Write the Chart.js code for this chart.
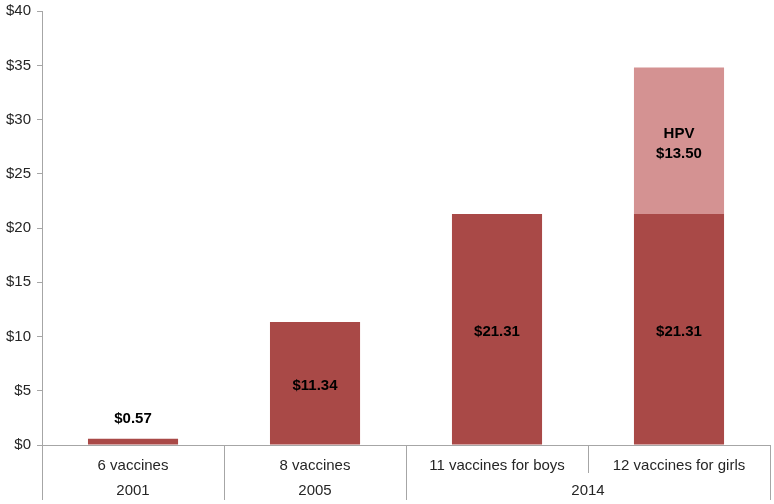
<!DOCTYPE html>
<html>
<head>
<meta charset="utf-8">
<script src="https://cdn.jsdelivr.net/npm/chart.js@4/dist/chart.umd.min.js"></script>
<style>
  html, body { margin: 0; padding: 0; background: #ffffff; }
  #wrap { width: 774px; height: 504px; }
</style>
</head>
<body>
<div id="wrap"><canvas id="c"></canvas></div>
<script>
// ---- Data ----
const categories = ['6 vaccines', '8 vaccines', '11 vaccines for boys', '12 vaccines for girls'];
const years = ['2001', '2005', '2014', '2014'];
const baseCost = [0.57, 11.34, 21.31, 21.31];
const hpvCost = [0, 0, 0, 13.50];
const yTicks = [0, 5, 10, 15, 20, 25, 30, 35, 40];

const FONT = '"Liberation Sans", Arial, sans-serif';
const AXIS = '#a6a6a6';
const TEXT = '#262626';

function money(v) { return '$' + v.toFixed(2); }

const labelPlugin = {
  id: 'barLabels',
  afterDatasetsDraw(chart) {
    const ctx = chart.ctx;
    ctx.save();
    ctx.font = 'bold 15px ' + FONT;
    ctx.fillStyle = '#000';
    ctx.textAlign = 'center';
    ctx.textBaseline = 'middle';
    const m0 = chart.getDatasetMeta(0);
    m0.data.forEach((bar, i) => {
      const v = baseCost[i];
      const h = bar.base - bar.y;
      if (h < 30) {
        ctx.fillText(money(v), bar.x, bar.y - 20);
      } else {
        ctx.fillText(money(v), bar.x, (bar.y + bar.base) / 2 + 3);
      }
    });
    const m1 = chart.getDatasetMeta(1);
    m1.data.forEach((bar, i) => {
      const v = hpvCost[i];
      if (!v) return;
      const cy = (bar.y + bar.base) / 2 + 3;
      ctx.fillText('HPV', bar.x, cy - 10);
      ctx.fillText(money(v), bar.x, cy + 10);
    });
    ctx.restore();
  }
};

const groupPlugin = {
  id: 'groupAxis',
  afterDraw(chart) {
    const ctx = chart.ctx;
    const xs = chart.scales.x;
    const area = chart.chartArea;
    const n = categories.length;
    const step = (xs.getPixelForValue(1) - xs.getPixelForValue(0));
    const bounds = [];
    for (let i = 0; i <= n; i++) bounds.push(xs.getPixelForValue(0) - step / 2 + i * step);
    ctx.save();
    ctx.strokeStyle = AXIS;
    ctx.lineWidth = 1;
    for (let i = 0; i <= n; i++) {
      const sameGroup = i > 0 && i < n && years[i] === years[i - 1];
      const x = Math.round(bounds[i]) + 0.5;
      ctx.beginPath();
      ctx.moveTo(x, area.bottom);
      ctx.lineTo(x, sameGroup ? area.bottom + 28 : area.bottom + 55);
      ctx.stroke();
    }
    ctx.font = '15px ' + FONT;
    ctx.fillStyle = TEXT;
    ctx.textAlign = 'center';
    ctx.textBaseline = 'middle';
    let start = 0;
    for (let i = 1; i <= n; i++) {
      if (i === n || years[i] !== years[start]) {
        const cx = (bounds[start] + bounds[i]) / 2;
        ctx.fillText(years[start], cx, area.bottom + 46);
        start = i;
      }
    }
    ctx.restore();
  }
};

new Chart(document.getElementById('c'), {
  type: 'bar',
  data: {
    labels: categories,
    datasets: [
      { label: 'Base', data: baseCost, backgroundColor: '#a94947', categoryPercentage: 1, barPercentage: 0.495 },
      { label: 'HPV', data: hpvCost, backgroundColor: '#d49292', categoryPercentage: 1, barPercentage: 0.495 }
    ]
  },
  options: {
    responsive: true,
    maintainAspectRatio: false,
    animation: false,
    layout: { padding: { top: 0, right: 4, bottom: 25, left: 0 } },
    plugins: { legend: { display: false }, tooltip: { enabled: false } },
    scales: {
      x: {
        stacked: true,
        grid: { display: false },
        border: { display: true, color: AXIS },
        ticks: { color: TEXT, font: { family: FONT, size: 15 }, padding: 4, maxRotation: 0, autoSkip: false }
      },
      y: {
        stacked: true,
        min: 0, max: 40,
        afterBuildTicks(scale) { scale.ticks = yTicks.map(v => ({ value: v })); },
        grid: { drawOnChartArea: false, tickLength: 5, color: AXIS },
        border: { color: AXIS },
        ticks: { color: TEXT, font: { family: FONT, size: 15, lineHeight: 0.7 }, padding: 6, callback: v => '$' + v }
      }
    }
  },
  plugins: [labelPlugin, groupPlugin]
});
</script>
</body>
</html>
